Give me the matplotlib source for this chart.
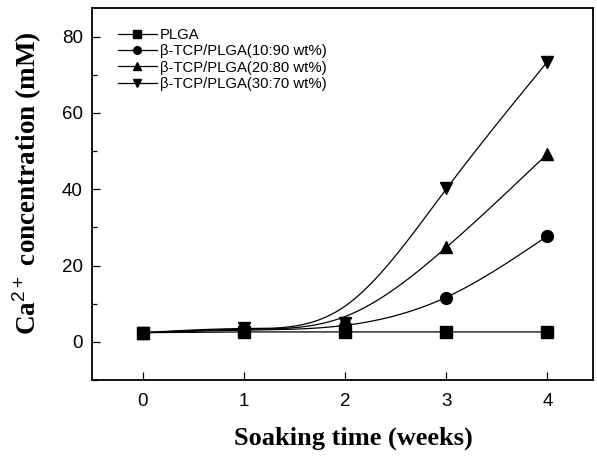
import numpy as np
import matplotlib
matplotlib.use("Agg")
import matplotlib.pyplot as plt
from matplotlib.ticker import MultipleLocator

plt.rcParams['font.family'] = ['Liberation Sans', 'DejaVu Sans']
plt.rcParams['mathtext.fontset'] = 'custom'
plt.rcParams['mathtext.rm'] = 'Liberation Serif:bold'
plt.rcParams['mathtext.sf'] = 'Liberation Sans'

weeks = [0, 1, 2, 3, 4]
plga = [2.4, 2.6, 2.6, 2.6, 2.6]
tcp_10 = [2.4, 3.1, 4.2, 11.6, 27.8]
tcp_20 = [2.4, 3.4, 4.6, 24.8, 49.3]
tcp_30 = [2.4, 3.7, 5.0, 40.3, 73.4]

labels = ["PLGA", "β-TCP/PLGA(10:90 wt%)", "β-TCP/PLGA(20:80 wt%)",
          "β-TCP/PLGA(30:70 wt%)"]
markers = ['s', 'o', '^', 'v']


def smooth_spline(x, y, w, lam, num=200):
    # Reinsch smoothing spline: (W + lam Q R^-1 Q^T) g = W y
    x = np.asarray(x, float)
    y = np.asarray(y, float)
    n = len(x)
    h = np.diff(x)
    Q = np.zeros((n, n - 2))
    R = np.zeros((n - 2, n - 2))
    for j in range(1, n - 1):
        Q[j - 1, j - 1] = 1 / h[j - 1]
        Q[j, j - 1] = -1 / h[j - 1] - 1 / h[j]
        Q[j + 1, j - 1] = 1 / h[j]
        R[j - 1, j - 1] = (h[j - 1] + h[j]) / 3
        if j < n - 2:
            R[j - 1, j] = R[j, j - 1] = h[j] / 6
    W = np.diag(w)
    K = Q @ np.linalg.solve(R, Q.T)
    g = np.linalg.solve(W + lam * K, W @ y)
    M = np.concatenate([[0], np.linalg.solve(R, Q.T @ g), [0]])
    xs = np.linspace(x[0], x[-1], num)
    i = np.clip(np.searchsorted(x, xs) - 1, 0, n - 2)
    t = (xs - x[i]) / h[i]
    ys = ((1 - t) * g[i] + t * g[i + 1]
          + h[i] ** 2 / 6 * (((1 - t) ** 3 - (1 - t)) * M[i]
                             + (t ** 3 - t) * M[i + 1]))
    return xs, ys


fig = plt.figure(figsize=(5.97, 4.57), dpi=100)
ax = fig.add_axes([92 / 597, 1 - 380 / 457, 501 / 597, 372 / 457])

series = [plga, tcp_10, tcp_20, tcp_30]
for vals, lab, mk in zip(series, labels, markers):
    if vals is plga:
        ax.plot(weeks, vals, color='k', lw=0.9)
    else:
        xs, ys = smooth_spline(weeks, vals, [10, 10, 1, 10, 10], 0.05)
        ax.plot(xs, ys, color='k', lw=0.9)
    ax.plot(weeks, vals, ls='none', marker=mk, color='k', ms=8.5)
    ax.plot([], [], color='k', lw=0.9, marker=mk, ms=5.5, label=lab)

ax.set_xlim(-0.5, 4.45)
ax.set_ylim(-10, 87.5)
ax.xaxis.set_major_locator(MultipleLocator(1))
ax.yaxis.set_major_locator(MultipleLocator(20))
ax.yaxis.set_minor_locator(MultipleLocator(10))
ax.tick_params(which='both', direction='in', top=False, right=False,
               labelsize=13.5, width=0.9)
ax.tick_params(which='major', length=6)
ax.tick_params(which='minor', length=3.5)
ax.tick_params(axis='x', pad=9.5)
ax.tick_params(axis='y', pad=6.5)
for s in ax.spines.values():
    s.set_linewidth(1.3)

ax.set_xlabel("Soaking time (weeks)", fontfamily='Liberation Serif',
              fontweight='bold', fontsize=19)
ax.set_ylabel(r"Ca$^{\mathsf{2+}}$ concentration (mM)",
              fontfamily='Liberation Serif', fontweight='bold', fontsize=19.5)
ax.xaxis.set_label_coords(0.521, -0.125)
ax.yaxis.set_label_coords(-0.096, 0.53)

ax.legend(loc='upper left', frameon=False, fontsize=10.7, handlelength=2.6,
          handletextpad=0.2, labelspacing=0.15, borderaxespad=0,
          bbox_to_anchor=(0.04, 0.962))

fig.savefig("out.png", dpi=100)
